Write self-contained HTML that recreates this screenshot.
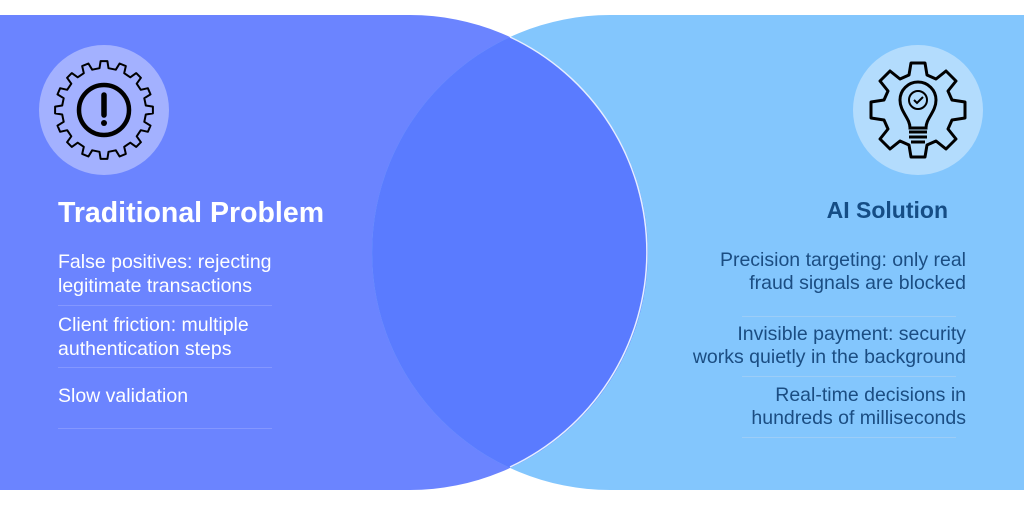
<!DOCTYPE html>
<html><head><style>
body{margin:0;width:1024px;height:516px;background:#fff;position:relative;overflow:hidden;font-family:"Liberation Sans",sans-serif}
svg{position:absolute;left:0;top:0}
.t{position:absolute;white-space:nowrap}
.l{color:#fff;font-size:19.5px;left:58px;line-height:24px}
.r{color:#1b4d82;font-size:19.5px;right:58px;text-align:right;line-height:23px}
.sl{position:absolute;left:58px;width:214px;height:1px;background:#8497ff}
.sr{position:absolute;left:742px;width:214px;height:1px;background:#9dcdf7}
</style></head><body>
<svg width="1024" height="516" viewBox="0 0 1024 516">
<defs><clipPath id="c"><path d="M1024,15 H610 A238,237.5 0 0 0 610,490 H1024 Z"/></clipPath></defs>
<path d="M0,15 H410 A238,237.5 0 0 1 410,490 H0 Z" fill="#6b84ff"/>
<path d="M1024,15 H610 A238,237.5 0 0 0 610,490 H1024 Z" fill="#83c6fd"/>
<path d="M0,15 H410 A238,237.5 0 0 1 410,490 H0 Z" fill="#5a7bff" clip-path="url(#c)"/>
<path d="M510,37 A238,237.5 0 0 1 510,467" fill="none" stroke="#e6eeff" stroke-width="1.5"/>
<circle cx="104" cy="110" r="65" fill="#a3b1ff"/>
<circle cx="918" cy="110" r="65" fill="#b3dcfd"/>
<g transform="translate(104,110)" fill="none" stroke="#000">
<path id="cog" d="" stroke-width="2" stroke-linejoin="round"/>
<circle r="25" stroke-width="4.5"/>
<line x1="0" y1="-15" x2="0" y2="5" stroke-width="5.5" stroke-linecap="round"/>
<circle cx="0" cy="13" r="3" fill="#000" stroke="none"/>
</g>
<g transform="translate(918,110)" fill="none" stroke="#000" stroke-width="3">
<path d="M-7,-47 H7 L9,-35 L18,-31 L28,-39 L38,-29 L30,-19 L34,-10 L47,-8 V8 L34,10 L30,19 L38,29 L28,39 L18,31 L9,35 L7,47 H-7 L-9,35 L-18,31 L-28,39 L-38,29 L-30,19 L-34,10 L-47,8 V-8 L-34,-10 L-30,-19 L-38,-29 L-28,-39 L-18,-31 L-9,-35 Z" stroke-linejoin="round"/>
<path d="M-8,18 C-8,8 -18,2 -18,-10 A18,18 0 0 1 18,-10 C18,2 8,8 8,18 Z"/>
<circle cx="0" cy="-10" r="9" stroke-width="2"/>
<path d="M-4,-10 L-1,-7 L5,-13" stroke-width="2"/>
<line x1="-9" y1="22" x2="9" y2="22"/><line x1="-9" y1="27" x2="9" y2="27"/><line x1="-7" y1="32" x2="7" y2="32"/>
</g>
</svg>
<script>
(function(){var n=16,d="",ro=49,ri=42;for(var i=0;i<n;i++){var a=i*2*Math.PI/n,w=Math.PI/n;var pts=[[ri,a-w*0.55],[ro,a-w*0.35],[ro,a+w*0.35],[ri,a+w*0.55]];pts.forEach(function(p,j){var x=(p[0]*Math.cos(p[1])).toFixed(1),y=(p[0]*Math.sin(p[1])).toFixed(1);d+=(i==0&&j==0?"M":"L")+x+","+y+" ";});}
document.getElementById("cog").setAttribute("d",d+"Z");})();
</script>
<div class="t" style="left:58px;top:197px;color:#fff;font-size:28.5px;font-weight:bold">Traditional Problem</div>
<div class="t l" style="top:250px">False positives: rejecting<br>legitimate transactions</div>
<div class="sl" style="top:305px"></div>
<div class="t l" style="top:313px">Client friction: multiple<br>authentication steps</div>
<div class="sl" style="top:367px"></div>
<div class="t l" style="top:384px">Slow validation</div>
<div class="sl" style="top:428px"></div>
<div class="t" style="right:76px;top:197px;color:#154d85;font-size:23px;font-weight:bold">AI Solution</div>
<div class="t r" style="top:249px">Precision targeting: only real<br>fraud signals are blocked</div>
<div class="sr" style="top:316px"></div>
<div class="t r" style="top:323px">Invisible payment: security<br>works quietly in the background</div>
<div class="sr" style="top:376px"></div>
<div class="t r" style="top:384px">Real-time decisions in<br>hundreds of milliseconds</div>
<div class="sr" style="top:437px"></div>
</body></html>
